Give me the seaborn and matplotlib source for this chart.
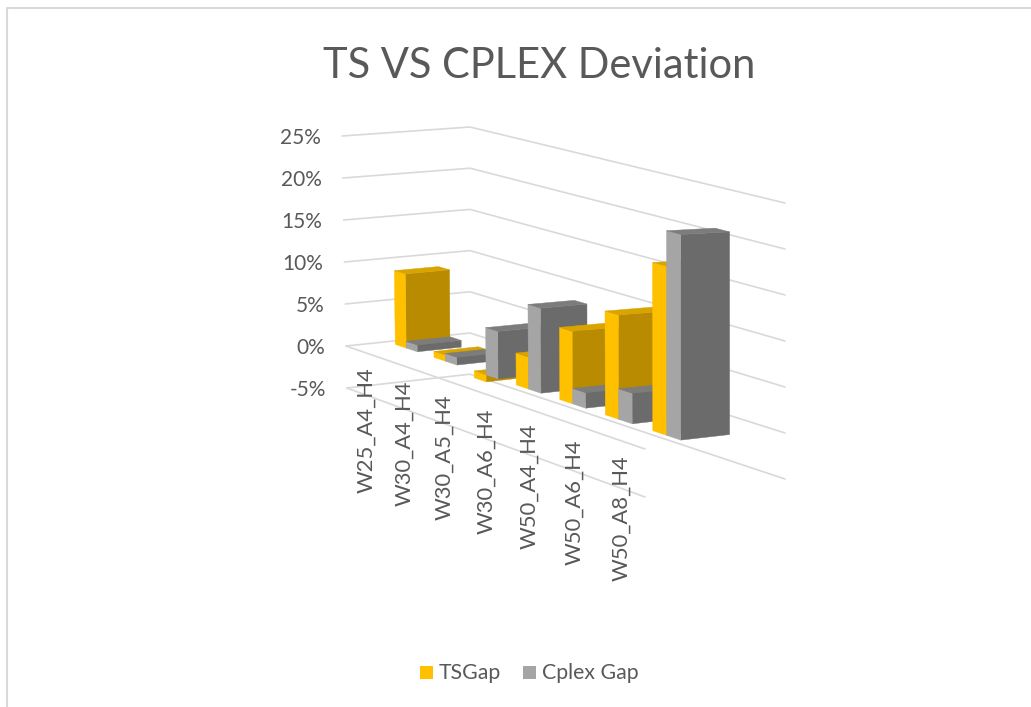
import numpy as np
import pandas as pd
import seaborn as sns
import matplotlib
matplotlib.use("Agg")
import matplotlib.pyplot as plt
from matplotlib.patches import Polygon, Rectangle

categories = ["W25_A4_H4", "W30_A4_H4", "W30_A5_H4", "W30_A6_H4",
              "W50_A4_H4", "W50_A6_H4", "W50_A8_H4"]
ts_gap = [8.8, 0.7, -0.8, 3.6, 8.0, 11.3, 18.0]
cplex_gap = [0.8, 0.9, 5.4, 9.5, 1.7, 3.3, 21.8]
series_names = ["TSGap", "Cplex Gap"]
z_ticks = [25, 20, 15, 10, 5, 0, -5]

sns.set_theme(style="white")
plt.rcParams["font.family"] = ["Lato", "DejaVu Sans"]
TEXT = "#595959"
GRID = "#D9D9D9"
face = {"TSGap": ("#FFC000", "#B98B00", "#D9A300"),
        "Cplex Gap": ("#A5A5A5", "#6B6B6B", "#7C7C7C")}

fig = plt.figure(figsize=(10.31, 7.07), dpi=100)
ax = fig.add_axes([0, 0, 1, 1])
ax.set_xlim(0, 1031)
ax.set_ylim(707, 0)
ax.axis("off")

# chart-area frame (left and top edges are visible in the crop)
ax.plot([7, 7, 1031], [707, 7.5, 7.5], color=GRID, lw=1.5, zorder=0)

# 3-D box projection: floor homography (0% plane), then vertical scale
src = [(0, 0), (1, 0), (1, 1), (0, 1)]
dst = [(346, 346), (645, 449), (785, 433), (470, 333)]
M, b = [], []
for (u, v), (x, y) in zip(src, dst):
    M.append([u, v, 1, 0, 0, 0, -u * x, -v * x]); b.append(x)
    M.append([0, 0, 0, u, v, 1, -u * y, -v * y]); b.append(y)
H = np.append(np.linalg.solve(np.array(M, float), np.array(b, float)), 1).reshape(3, 3)


def bil(a, d, c, bb, u, v):
    return a * (1 - u) * (1 - v) + d * u * (1 - v) + c * u * v + bb * (1 - u) * v


def proj(u, v, z):
    p = H @ np.array([u, v, 1.0])
    x, y = p[0] / p[2], p[1] / p[2]
    k = bil(8.4, 9.6, 9.2, 8.24, u, v)
    dx = bil(-0.16, 0, 0, 0, u, v)
    return x + dx * z, y - k * z


# gridlines
rows = []
for z in z_ticks:
    for i, (u, v) in enumerate([(0, 0), (0, 1), (1, 1)]):
        x, y = proj(u, v, z)
        rows.append(dict(line=f"w{z}", order=i, sx=x, sy=y))
    if z in (0, -5):
        for i, (u, v) in enumerate([(0, 0), (1, 0)]):
            x, y = proj(u, v, z)
            rows.append(dict(line=f"f{z}", order=i, sx=x, sy=y))
grid = pd.DataFrame(rows)
sns.lineplot(data=grid, x="sx", y="sy", units="line", estimator=None, sort=False,
             color=GRID, lw=1.2, ax=ax, legend=False, zorder=1)
ax.set_xlim(0, 1031)
ax.set_ylim(707, 0)

# bars
n = len(categories)
w = (1 / n) / 3.5
v0, v1 = 0.33, 0.68
z_ord = 3
for i in range(n):
    c = (i + 0.5) / n
    for j, (name, vals) in enumerate(zip(series_names, [ts_gap, cplex_gap])):
        u0, u1 = c - w + j * w, c + j * w
        h = vals[i]
        hi = max(h, 0)
        lo = min(h, 0)
        light, dark, top = face[name]
        polys = [
            ([(u1, v0, lo), (u1, v1, lo), (u1, v1, hi), (u1, v0, hi)], dark),
            ([(u0, v0, lo), (u1, v0, lo), (u1, v0, hi), (u0, v0, hi)], light),
            ([(u0, v0, hi), (u1, v0, hi), (u1, v1, hi), (u0, v1, hi)], top),
        ]
        for pts, col in polys:
            ax.add_patch(Polygon([proj(*p) for p in pts], closed=True, fc=col, ec=col,
                                 lw=0.3, zorder=z_ord))
            z_ord += 1

# value-axis labels
for z in z_ticks:
    x, y = proj(0, 0, z)
    ax.text(x - 21, y + 2.5, f"{z}%", ha="right", va="center", fontsize=15, color=TEXT, zorder=50)

# category labels
for i, lab in enumerate(categories):
    c = (i + 0.5) / n
    x, y = proj(c, 0, -5)
    ax.text(x + 1, y - 27 - 6.5 * c, lab, rotation=90, ha="center", va="top", fontsize=15.8,
            color=TEXT, zorder=50)

ax.text(539, 66, "TS VS CPLEX Deviation", ha="center", va="center", fontsize=30, color=TEXT)

# legend
for name, xs, xt in zip(series_names, [420, 523], [439, 542]):
    ax.add_patch(Rectangle((xs, 666), 13, 13, fc=face[name][0], ec="none"))
    ax.text(xt, 673, name, ha="left", va="center", fontsize=15.3, color=TEXT)

fig.savefig("out.png", dpi=100)
